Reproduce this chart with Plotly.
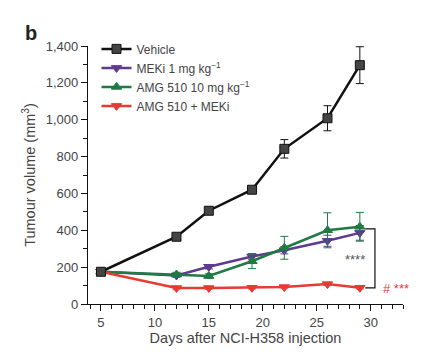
import plotly.graph_objects as go

days = [5, 12, 15, 19, 22, 26, 29]
vehicle = [175, 365, 506, 620, 842, 1008, 1296]
vehicle_err = [10, 15, 15, 18, 50, 68, 100]
meki = [175, 155, 202, 258, 292, 343, 386]
meki_err = [8, 10, 12, 15, 20, 30, 40]
amg = [175, 160, 152, 232, 305, 400, 419]
amg_err = [8, 12, 12, 40, 62, 95, 78]
combo = [175, 87, 87, 88, 92, 108, 88]
combo_err = [8, 6, 6, 6, 6, 8, 6]

names = ["Vehicle", "MEKi 1 mg kg<sup>−1</sup>", "AMG 510 10 mg kg<sup>−1</sup>", "AMG 510 + MEKi"]
series = [vehicle, meki, amg, combo]
errs = [vehicle_err, meki_err, amg_err, combo_err]
line_colors = ["#111111", "#5e3b8f", "#1f7a44", "#e63a33"]
marker_colors = ["#444444", "#5e3b8f", "#1f7a44", "#e63a33"]
symbols = ["square", "triangle-down", "triangle-up", "triangle-down"]

fig = go.Figure()
for i in [1, 2, 3, 0]:
    fig.add_trace(go.Scatter(
        x=days, y=series[i], name=names[i], mode="lines+markers",
        line=dict(color=line_colors[i], width=2.5),
        marker=dict(symbol=symbols[i], size=9, color=marker_colors[i],
                    line=dict(color="#111111" if i == 0 else marker_colors[i], width=1)),
        error_y=dict(type="data", array=errs[i], color=line_colors[i], thickness=1, width=4),
        legendrank=i + 1,
    ))

font = "Liberation Sans, Arial, sans-serif"
txt = "#444444"
fig.update_layout(
    width=423, height=356,
    margin=dict(l=80, r=28, t=38, b=60),
    paper_bgcolor="white", plot_bgcolor="white",
    font=dict(family=font, size=13, color=txt),
    showlegend=True,
    legend=dict(x=0.027, y=1.045, xanchor="left", yanchor="top", bgcolor="rgba(0,0,0,0)",
                font=dict(size=12, color=txt), tracegroupgap=0, itemwidth=30),
    xaxis=dict(range=[3.8, 33], tickvals=[5, 10, 15, 20, 25, 30], showgrid=False, zeroline=False,
               showline=True, linecolor="#111111", linewidth=1.2, ticks="outside", ticklen=6,
               tickcolor="#111111", tickfont=dict(size=13, color=txt),
               minor=dict(tick0=4, dtick=1, ticks="outside", ticklen=4, tickcolor="#111111"),
               title=dict(text="Days after NCI-H358 injection", font=dict(size=14.5, color=txt), standoff=4)),
    yaxis=dict(range=[0, 1400], tickvals=[0, 200, 400, 600, 800, 1000, 1200, 1400],
               ticktext=["0", "200", "400", "600", "800", "1,000", "1,200", "1,400"],
               showgrid=False, zeroline=False, showline=True, linecolor="#111111", linewidth=1.2,
               ticks="outside", ticklen=6, tickcolor="#111111", tickfont=dict(size=13, color=txt),
               minor=dict(dtick=100, ticks="outside", ticklen=4, tickcolor="#111111"),
               title=dict(text="Tumour volume (mm<sup>3</sup>)", font=dict(size=14.5, color=txt), standoff=6)),
)

# significance bracket
fig.add_shape(type="path", xref="x", yref="y",
              path="M 29.5 408 L 30.4 408 L 30.4 87 L 29.5 87",
              line=dict(color="#111111", width=1.2))
fig.add_annotation(x=29.7, y=240, xref="x", yref="y", text="****", showarrow=False,
                   xanchor="right", font=dict(size=13, color="#555555"))
fig.add_annotation(x=31.0, y=85, xref="x", yref="y", text="# ***", showarrow=False,
                   xanchor="left", font=dict(size=13, color="#e63a33"))
fig.add_annotation(x=-0.205, y=1.0, xref="paper", yref="paper", xanchor="left", yanchor="bottom",
                   text="<b>b</b>", showarrow=False, font=dict(size=20, color="#222222"))

fig.write_html("out.html")
